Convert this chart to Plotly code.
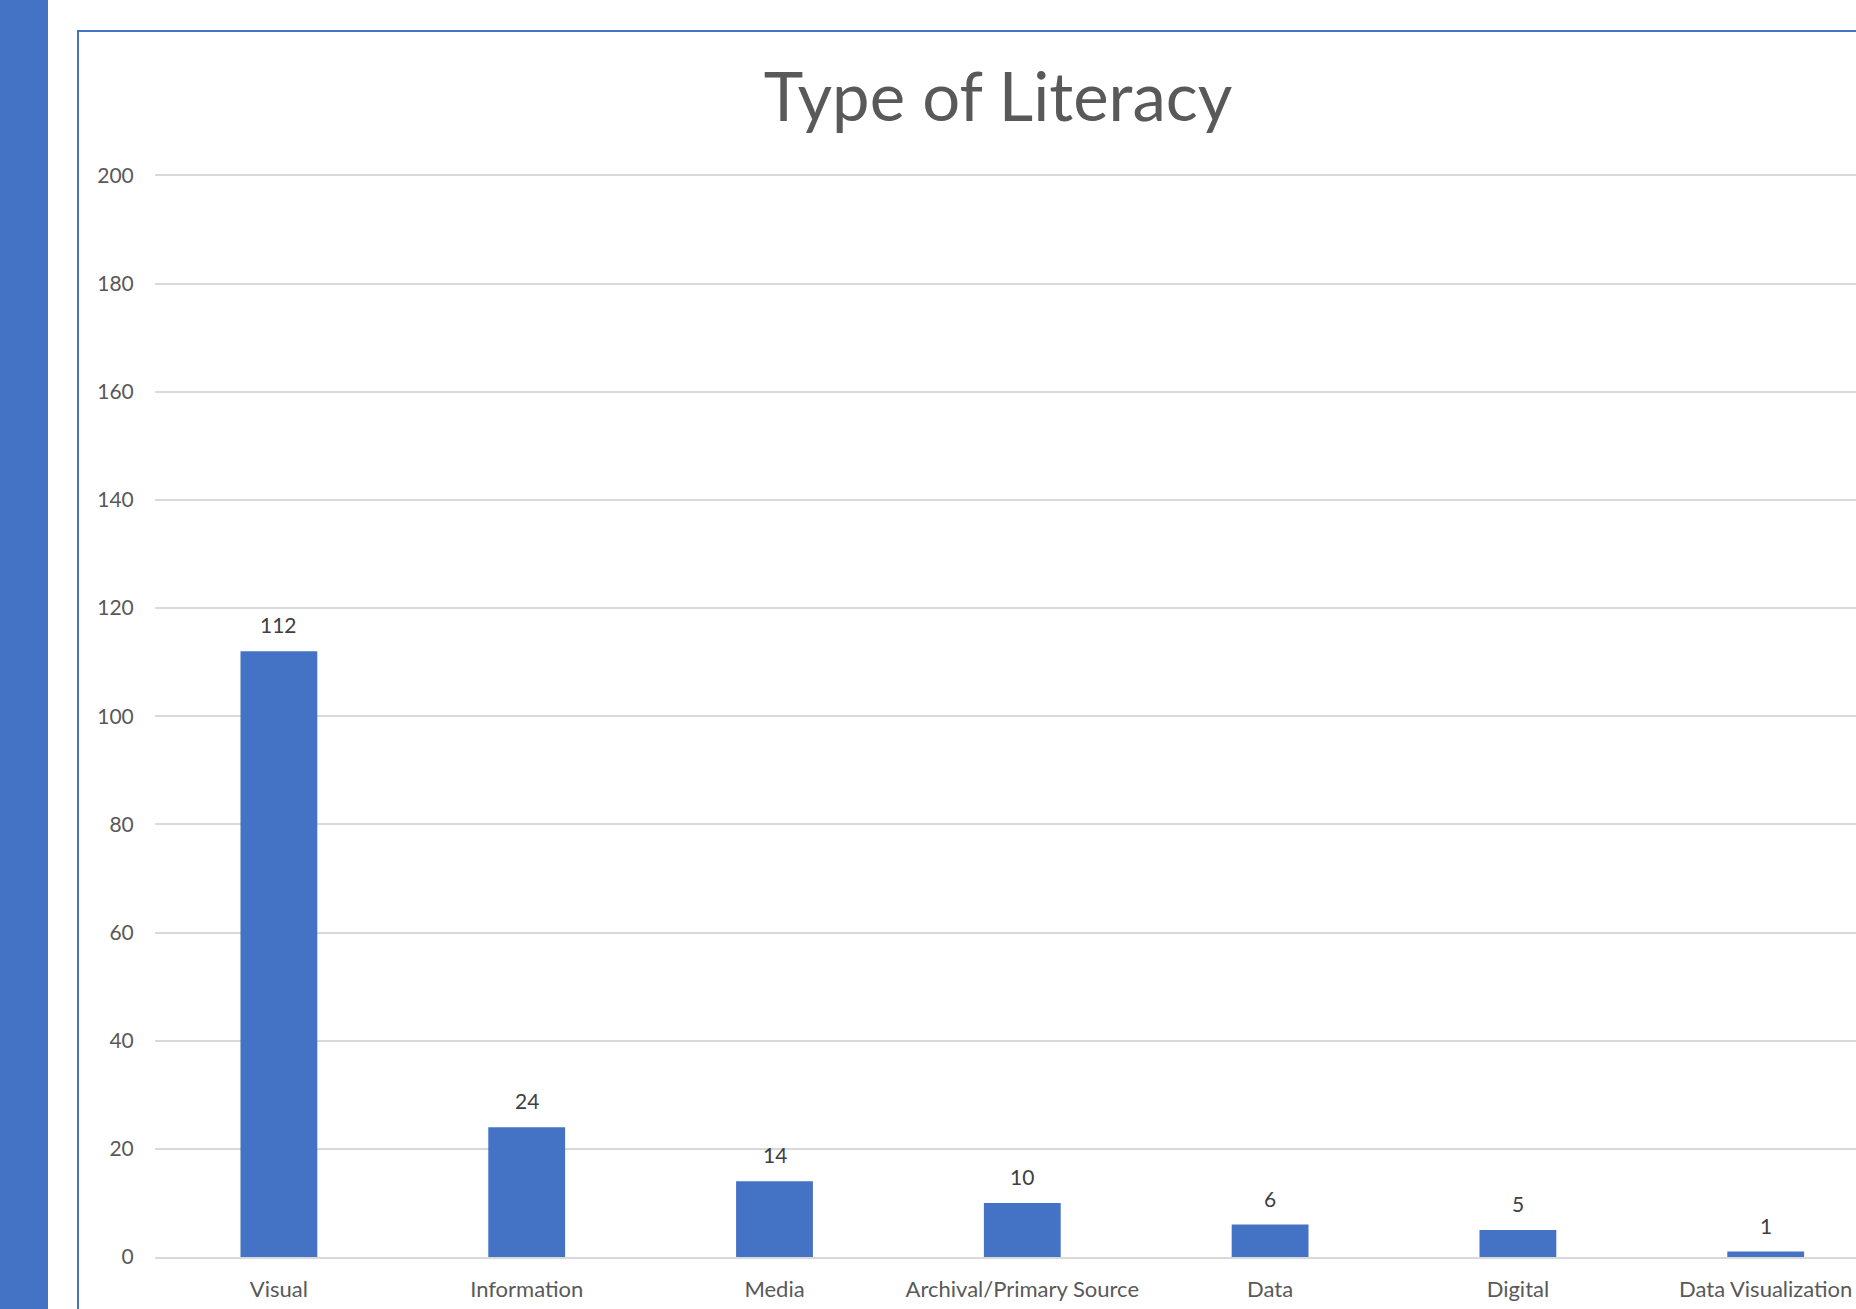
import plotly.graph_objects as go

categories = ["Visual", "Information", "Media", "Archival/Primary Source", "Data", "Digital", "Data Visualization"]
counts = [112, 24, 14, 10, 6, 5, 1]
y_ticks = [0, 20, 40, 60, 80, 100, 120, 140, 160, 180, 200]
title_text = "Type of Literacy"

OFF = 0  # page body margin removed via post_script
W, H = 1856 - OFF, 1309 - OFF
Y_TOP_VAL = 201
L = 155 - OFF
R_px = W
BOT = 1257 - OFF
UNIT = (1257 - 175.5) / 200.0
TOP = BOT - Y_TOP_VAL * UNIT
pw = R_px - L
ph = BOT - TOP
CAT_W = 247.8

def px_x(p):
    return (p - OFF - L) / pw

def px_y(p):
    return (BOT - (p - OFF)) / ph

FONT = "Lato"
TXT = "#595959"
BAR = "#4472C4"

fig = go.Figure()
fig.add_trace(go.Bar(
    x=categories, y=counts, marker=dict(color=BAR, line=dict(width=0)),
    width=0.31, showlegend=False, hoverinfo="x+y",
))

for c, v in zip(categories, counts):
    fig.add_annotation(x=c, y=v, text=str(v), showarrow=False, yanchor="bottom",
                       yshift=12, font=dict(family=FONT, size=21, color="#404040"))

# chart border (frame extends beyond the visible area)
fig.add_shape(type="rect", xref="paper", yref="paper",
              x0=px_x(78), x1=px_x(1920), y0=px_y(1360), y1=px_y(31),
              line=dict(color="#4472C4", width=2), fillcolor="rgba(0,0,0,0)", layer="below")
# left blue strip
fig.add_shape(type="rect", xref="paper", yref="paper",
              x0=px_x(-5), x1=px_x(48), y0=px_y(1360), y1=px_y(-10),
              line=dict(width=0), fillcolor="#4472C4", layer="below")

fig.update_layout(
    width=W, height=H,
    margin=dict(l=L, r=W - R_px, t=TOP, b=H - BOT, pad=0),
    paper_bgcolor="white", plot_bgcolor="white",
    title=dict(text=title_text, x=(998 - OFF) / W, xref="container", xanchor="center",
               y=1 - (98 - OFF) / H, yref="container", yanchor="middle",
               font=dict(family=FONT, size=67, color=TXT)),
    font=dict(family=FONT, color=TXT),
)
fig.update_xaxes(
    type="category", range=[-0.5, pw / CAT_W - 0.5],
    showline=True, linecolor="#d9d9d9", linewidth=2,
    showgrid=False, ticks="outside", ticklen=12, tickcolor="rgba(0,0,0,0)",
    tickfont=dict(family=FONT, size=22, color=TXT),
)
fig.update_yaxes(
    range=[0, Y_TOP_VAL], tickvals=y_ticks, showgrid=True, gridcolor="#d9d9d9", gridwidth=1.5,
    zeroline=False, showline=False, ticks="outside", ticklen=16, tickcolor="rgba(0,0,0,0)",
    tickfont=dict(family=FONT, size=21, color=TXT),
)

fig.write_html("out.html", config={"displayModeBar": False},
               post_script="document.body.style.margin='0';document.body.style.overflow='hidden';")
